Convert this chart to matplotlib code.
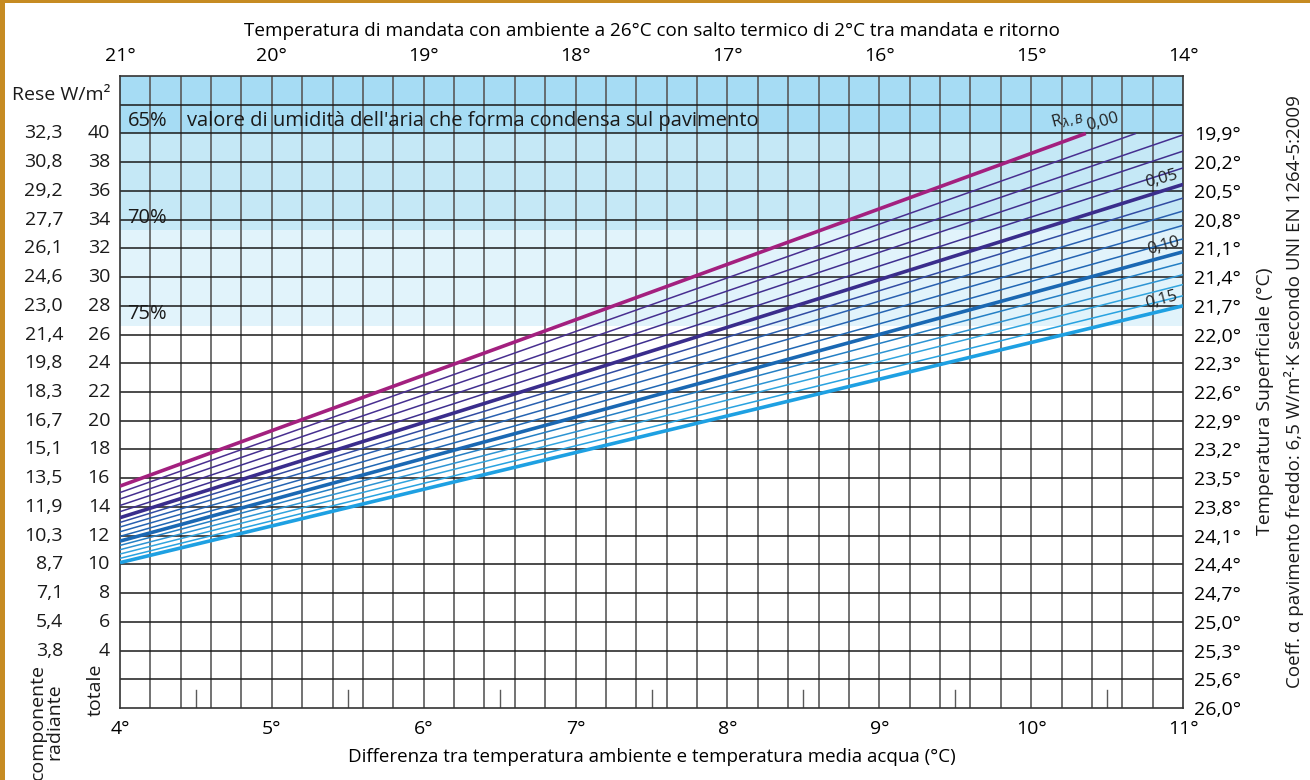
import matplotlib
matplotlib.use("Agg")
import matplotlib.pyplot as plt
from matplotlib.colors import LinearSegmentedColormap
from matplotlib.patches import Rectangle
import numpy as np

plt.rcParams['font.family'] = ['Open Sans', 'DejaVu Sans']
FS = 14

# Thermal resistance of the floor covering, one line per value
r_values = [0.00, 0.01, 0.02, 0.03, 0.04, 0.05, 0.06, 0.07, 0.08, 0.09,
            0.10, 0.11, 0.12, 0.13, 0.14, 0.15]
# Heat output (W/m²) at ΔT = 4 °C
q_start = [15.45, 15.00, 14.55, 14.10, 13.67, 13.25, 12.92, 12.60, 12.27, 11.95,
           11.62, 11.32, 11.02, 10.72, 10.42, 10.12]
# End point of each line (ΔT, W/m²); lines stop at 40 W/m²
dt_end = [10.36, 10.69, 11.0, 11.0, 11.0, 11.0, 11.0, 11.0, 11.0, 11.0,
          11.0, 11.0, 11.0, 11.0, 11.0, 11.0]
q_end = [40.0, 40.0, 39.9, 38.77, 37.6, 36.45, 35.5, 34.6, 33.6, 32.66,
         31.76, 31.0, 30.17, 29.48, 28.7, 28.0]

# Bottom axis: water/room temperature difference; top axis: supply temperature
dt_ticks = [4, 5, 6, 7, 8, 9, 10, 11]
supply_labels = ['21°', '20°', '19°', '18°', '17°', '16°', '15°', '14°']

# Total output scale with radiant component and surface temperature
total_levels = [40, 38, 36, 34, 32, 30, 28, 26, 24, 22, 20, 18, 16, 14, 12, 10, 8, 6, 4]
radiant_labels = ['32,3', '30,8', '29,2', '27,7', '26,1', '24,6', '23,0', '21,4', '19,8',
                  '18,3', '16,7', '15,1', '13,5', '11,9', '10,3', '8,7', '7,1', '5,4', '3,8']
surface_levels = [40, 38, 36, 34, 32, 30, 28, 26, 24, 22, 20, 18, 16, 14, 12, 10, 8, 6, 4, 2, 0]
surface_labels = ['19,9°', '20,2°', '20,5°', '20,8°', '21,1°', '21,4°', '21,7°', '22,0°',
                  '22,3°', '22,6°', '22,9°', '23,2°', '23,5°', '23,8°', '24,1°', '24,4°',
                  '24,7°', '25,0°', '25,3°', '25,6°', '26,0°']

# Relative humidity bands where condensation forms
band_edges = [(40.0, 44.0), (33.3, 40.0), (26.6, 33.3)]
band_labels = ['65%', '70%', '75%']
band_label_y = [40.9, 34.1, 27.4]
band_colors = ['#a6dcf4', '#c5e8f6', '#e1f3fb']

W, H = 1310, 780
fig = plt.figure(figsize=(W / 100, H / 100), dpi=100)
ax = fig.add_axes([120 / W, 1 - 708 / H, (1183 - 120) / W, (708 - 76) / H])
ax.set_xlim(4, 11)
ax.set_ylim(0, 44)

for (lo, hi), col in zip(band_edges, band_colors):
    ax.axhspan(lo, hi, color=col, lw=0, zorder=0)

# grid
for xv in np.arange(4.2, 11.0, 0.2):
    ax.axvline(xv, color='#5a5a5a', lw=1.2, zorder=1)
for yv in range(2, 44, 2):
    ax.axhline(yv, color='#1a1a1a', lw=1.1, zorder=1)
for xv in np.arange(4.5, 11.0, 1.0):
    ax.plot([xv, xv], [0, 1.25], color='#5a5a5a', lw=1.0, zorder=1)

# coloured family of lines
cmap = LinearSegmentedColormap.from_list(
    'rlb', [(0.0, '#a3207f'), (0.04, '#4a2f90'), (0.33, '#3b2f8f'),
            (0.45, '#2a5fb0'), (0.67, '#1c6bb6'), (0.85, '#33a4de'), (1.0, '#1fa0e2')])
for i, r in enumerate(r_values):
    thick = i % 5 == 0
    col = cmap(r / 0.15)
    if i == 0:
        col = '#a3207f'
    elif i == 5:
        col = '#3a2d8c'
    elif i == 10:
        col = '#1a68b3'
    elif i == 15:
        col = '#1ea0e2'
    ax.plot([4, dt_end[i]], [q_start[i], q_end[i]], color=col,
            lw=2.6 if thick else 1.1, zorder=3, solid_capstyle='butt')

# line labels
lab_kw = dict(fontsize=12, rotation=15, ha='center', va='center', color='#222222', zorder=4)
ax.text(10.24, 41.0, r'R$_{\lambda,B}$', **lab_kw)
ax.text(10.47, 40.8, '0,00', **lab_kw)
ax.text(10.86, 36.85, '0,05', **lab_kw)
ax.text(10.87, 32.15, '0,10', **lab_kw)
ax.text(10.86, 28.4, '0,15', **lab_kw)

# humidity labels
for lab, yv in zip(band_labels, band_label_y):
    ax.text(4.05, yv, lab, fontsize=14.5, ha='left', va='center', color='#1a1a1a', zorder=4)
ax.text(4.44, 40.9, "valore di umidità dell'aria che forma condensa sul pavimento",
        fontsize=14.5, ha='left', va='center', color='#1a1a1a', zorder=4)

for sp in ax.spines.values():
    sp.set_color('#333333')
    sp.set_linewidth(1.2)

# bottom axis
ax.set_xticks(dt_ticks)
ax.set_xticklabels([f'{d}°' for d in dt_ticks], fontsize=FS)
ax.tick_params(axis='x', length=0, pad=9)
ax.set_xlabel('Differenza tra temperatura ambiente e temperatura media acqua (°C)',
              fontsize=13.5, labelpad=7)
ax.set_yticks([])

# top axis
axt = ax.twiny()
axt.set_xlim(4, 11)
axt.set_xticks(dt_ticks)
axt.set_xticklabels(supply_labels, fontsize=FS)
axt.tick_params(axis='x', length=0, pad=8)
axt.set_xlabel('Temperatura di mandata con ambiente a 26°C con salto termico di 2°C tra mandata e ritorno',
               fontsize=13.6, labelpad=8)
for sp in axt.spines.values():
    sp.set_visible(False)

# right axis
axr = ax.twinx()
axr.set_ylim(0, 44)
axr.set_yticks(surface_levels)
axr.set_yticklabels(surface_labels, fontsize=FS)
axr.tick_params(axis='y', length=0, pad=8)
for sp in axr.spines.values():
    sp.set_visible(False)

# left scales
ytr = ax.get_yaxis_transform()
for lv, lab in zip(total_levels, radiant_labels):
    ax.text(-0.0536, lv, lab, transform=ytr, fontsize=FS, ha='right', va='center', color='#1a1a1a')
    ax.text(-0.0094, lv, str(lv), transform=ytr, fontsize=FS, ha='right', va='center', color='#1a1a1a')
ax.text(-0.0094, 42.65, 'Rese W/m²', transform=ytr, fontsize=FS, ha='right', va='center',
        color='#1a1a1a')

fig.text(46 / W, 1 - 722 / H, 'componente\nradiante', rotation=90, fontsize=FS,
         ha='center', va='center', multialignment='center', color='#1a1a1a', linespacing=0.9)
fig.text(96 / W, 1 - 690 / H, 'totale', rotation=90, fontsize=FS,
         ha='center', va='center', color='#1a1a1a')

fig.text(1265 / W, 1 - 401 / H, 'Temperatura Superficiale (°C)', rotation=90, fontsize=FS,
         ha='center', va='center', color='#1a1a1a')
fig.text(1294 / W, 1 - 392 / H, 'Coeff. α pavimento freddo: 6,5 W/m²·K secondo UNI EN 1264-5:2009',
         rotation=90, fontsize=13.5, ha='center', va='center', color='#1a1a1a')

# frame
fig.patches.append(Rectangle((0, 1 - 3 / H), 1, 3 / H, transform=fig.transFigure,
                             color='#c68b22', lw=0))
fig.patches.append(Rectangle((0, 0), 5 / W, 1, transform=fig.transFigure,
                             color='#c68b22', lw=0))

fig.savefig('out.png', dpi=100)
